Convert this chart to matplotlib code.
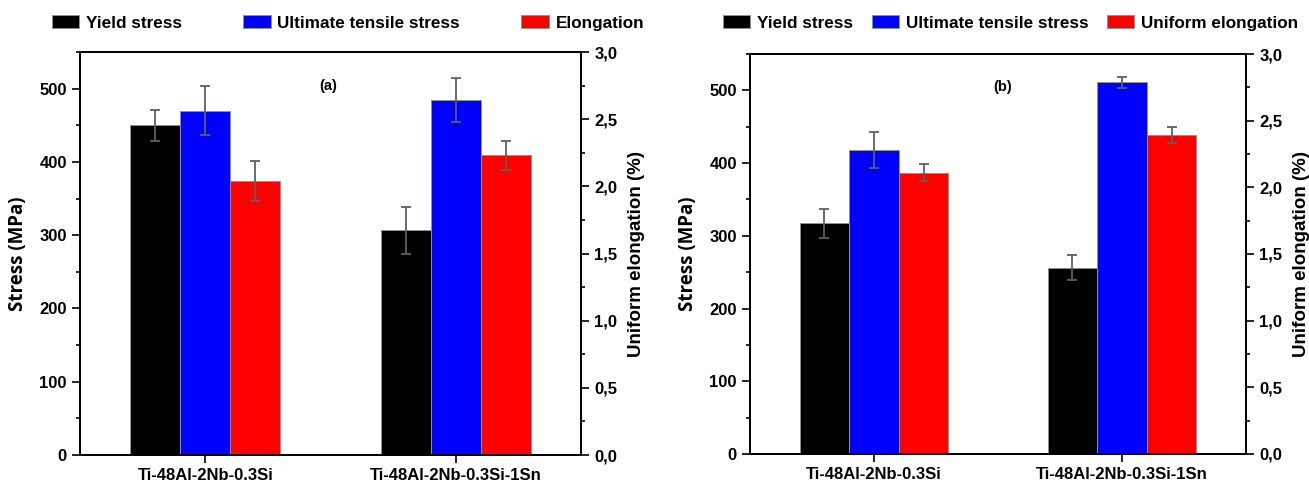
import matplotlib
matplotlib.use("Agg")
from matplotlib import pyplot as plt
from matplotlib.patches import Patch
from matplotlib.ticker import MultipleLocator, FuncFormatter
import numpy as np

# Data
alloys = ['Ti-48Al-2Nb-0.3Si', 'Ti-48Al-2Nb-0.3Si-1Sn']

# panel (a)
yield_a = [450, 307]
yield_a_err = [21, 32]
uts_a = [470, 485]
uts_a_err = [33, 30]
elong_a = [2.04, 2.23]
elong_a_err = [0.15, 0.11]

# panel (b)
yield_b = [317, 256]
yield_b_err = [20, 17]
uts_b = [418, 511]
uts_b_err = [25, 7.5]
elong_b = [2.11, 2.39]
elong_b_err = [0.065, 0.06]

legend_a = ['Yield stress', 'Ultimate tensile stress', 'Elongation']
legend_b = ['Yield stress', 'Ultimate tensile stress', 'Uniform elongation']
colors = ['#000000', '#0000ff', '#ff0000']

plt.rcParams['font.family'] = ['Liberation Sans', 'DejaVu Sans']
plt.rcParams['font.weight'] = 'bold'

W, H = 1309, 484
fig = plt.figure(figsize=(W / 100, H / 100), dpi=100)

comma = FuncFormatter(lambda v, p: f"{v:.1f}".replace('.', ','))


def draw_panel(rect, ys, ys_err, us, us_err, es, es_err, tag, tag_x):
    ax = fig.add_axes(rect)
    ax2 = ax.twinx()
    x = np.arange(1, len(alloys) + 1)
    w = 0.2
    ekw = dict(ecolor='#606060', elinewidth=1.3, capsize=3.3, capthick=1.3)
    ax.bar(x - w, ys, w, yerr=ys_err, color=colors[0], edgecolor='#909090', linewidth=0.7, error_kw=ekw, zorder=2)
    ax.bar(x, us, w, yerr=us_err, color=colors[1], edgecolor='#909090', linewidth=0.7, error_kw=ekw, zorder=2)
    ax2.bar(x + w, es, w, yerr=es_err, color=colors[2], edgecolor='#909090', linewidth=0.7, error_kw=ekw, zorder=2)

    ax.set_xlim(0.5, 2.5)
    ax.set_ylim(0, 550)
    ax2.set_ylim(0, 3.0)
    ax.set_xticks(x)
    ax.set_xticklabels(alloys, fontsize=12, fontweight='bold')
    ax.yaxis.set_major_locator(MultipleLocator(100))
    ax.yaxis.set_minor_locator(MultipleLocator(50))
    ax2.yaxis.set_major_locator(MultipleLocator(0.5))
    ax2.yaxis.set_minor_locator(MultipleLocator(0.25))
    ax2.yaxis.set_major_formatter(comma)

    for a in (ax, ax2):
        a.tick_params(axis='both', which='major', direction='out', length=6, width=1.2, labelsize=12)
        a.tick_params(axis='both', which='minor', direction='out', length=3, width=1.2)
        for s in a.spines.values():
            s.set_linewidth(1.3)
    for lab in ax.get_yticklabels() + ax2.get_yticklabels():
        lab.set_fontweight('bold')

    ax.set_ylabel('Stress (MPa)', fontsize=13.5, fontweight='bold', family=['Open Sans', 'DejaVu Sans'], labelpad=8)
    ax2.set_ylabel('Uniform elongation (%)', fontsize=13.5, fontweight='bold', labelpad=8)
    ax.text(tag_x, 504, tag, ha='center', va='center', fontsize=10.5, fontweight='bold')
    return ax


draw_panel([80 / W, 1 - 455 / H, (581 - 80) / W, (455 - 52) / H],
           yield_a, yield_a_err, uts_a, uts_a_err, elong_a, elong_a_err, '(a)', 1.49)
draw_panel([750 / W, 1 - 454 / H, (1246 - 750) / W, (454 - 54) / H],
           yield_b, yield_b_err, uts_b, uts_b_err, elong_b, elong_b_err, '(b)', 1.52)

handles_a = [Patch(facecolor=c, edgecolor='#909090', linewidth=0.7, label=l) for c, l in zip(colors, legend_a)]
handles_b = [Patch(facecolor=c, edgecolor='#909090', linewidth=0.7, label=l) for c, l in zip(colors, legend_b)]

fig.legend(handles=handles_a, loc='center left', bbox_to_anchor=(43 / W, 1 - 23 / H), ncol=3,
           frameon=False, borderpad=0, handlelength=1.6, handleheight=0.75,
           handletextpad=0.4, columnspacing=3.6, prop={'weight': 'bold', 'size': 12.3})
fig.legend(handles=handles_b, loc='center left', bbox_to_anchor=(714 / W, 1 - 23 / H), ncol=3,
           frameon=False, borderpad=0, handlelength=1.6, handleheight=0.75,
           handletextpad=0.4, columnspacing=1.1, prop={'weight': 'bold', 'size': 12.3})

fig.savefig('out.png', dpi=100)
